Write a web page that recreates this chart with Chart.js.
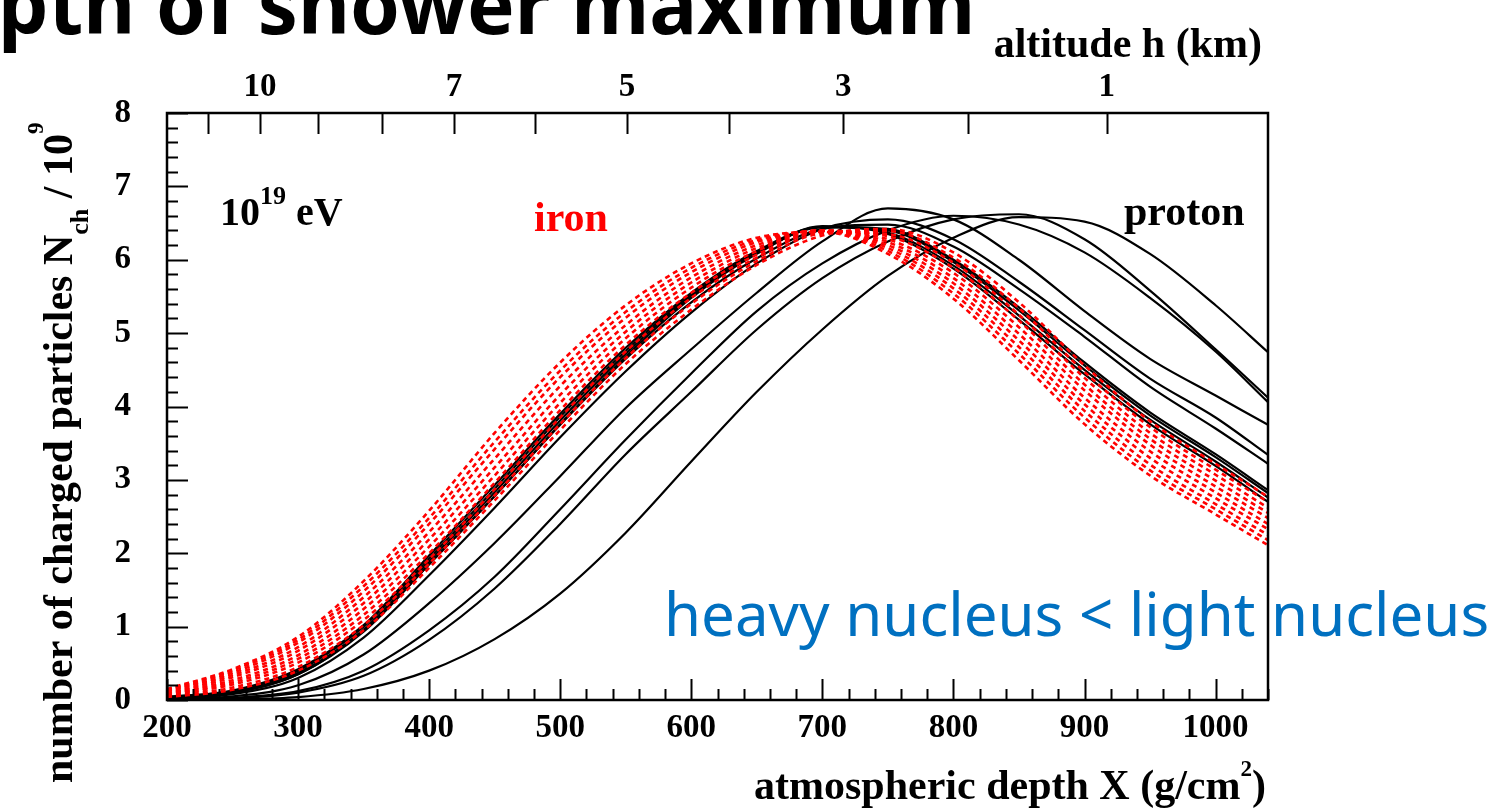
<!DOCTYPE html>
<html>
<head>
<meta charset="utf-8">
<title>Depth of shower maximum</title>
<script src="https://cdn.jsdelivr.net/npm/chart.js@4.4.1/dist/chart.umd.min.js"></script>
<style>
    html, body { margin: 0; padding: 0; background: #fff; }
    #wrap { position: relative; width: 1503px; height: 810px; overflow: hidden; }
</style>
</head>
<body>
<div id="wrap"><canvas id="myChart" width="1503" height="810"></canvas></div>
<script>
// 대기 깊이 X (g/cm2) - 모든 곡선이 공유하는 x 값
const depth = [200, 250, 300, 350, 400, 450, 500, 550, 600, 650, 700, 750, 800, 850, 900, 950, 1000, 1040];

// 양성자 샤워 (검은 실선), 단위 10^9
const proton1 = [0.00, 0.01, 0.04, 0.15, 0.40, 0.83, 1.45, 2.28, 3.25, 4.20, 5.05, 5.78, 6.30, 6.58, 6.52, 6.08, 5.38, 4.74];
const proton2 = [0.00, 0.02, 0.10, 0.33, 0.82, 1.52, 2.40, 3.35, 4.20, 5.05, 5.75, 6.25, 6.55, 6.62, 6.28, 5.58, 4.78, 4.12];
const proton3 = [0.00, 0.03, 0.12, 0.40, 0.95, 1.68, 2.60, 3.55, 4.45, 5.30, 5.95, 6.40, 6.60, 6.48, 6.10, 5.48, 4.75, 4.06];
const proton4 = [0.01, 0.05, 0.20, 0.62, 1.32, 2.14, 3.05, 3.98, 4.78, 5.55, 6.25, 6.70, 6.55, 6.00, 5.30, 4.65, 4.15, 3.75];
const proton5 = [0.02, 0.08, 0.30, 0.85, 1.70, 2.62, 3.58, 4.48, 5.28, 5.95, 6.42, 6.55, 6.28, 5.70, 5.04, 4.38, 3.85, 3.34];
const proton6 = [0.03, 0.10, 0.35, 0.95, 1.85, 2.78, 3.75, 4.65, 5.42, 6.02, 6.42, 6.48, 6.18, 5.60, 4.95, 4.27, 3.70, 3.22];
const proton7 = [0.04, 0.13, 0.42, 1.02, 1.97, 2.93, 3.90, 4.80, 5.55, 6.12, 6.45, 6.42, 6.00, 5.35, 4.60, 3.92, 3.35, 2.86];
const proton8 = [0.04, 0.12, 0.40, 1.00, 1.93, 2.88, 3.86, 4.76, 5.52, 6.10, 6.44, 6.40, 5.97, 5.31, 4.56, 3.88, 3.31, 2.82];
const proton9 = [0.03, 0.11, 0.37, 0.96, 1.89, 2.83, 3.81, 4.72, 5.50, 6.09, 6.45, 6.37, 5.92, 5.24, 4.50, 3.82, 3.25, 2.76];
const proton10 = [0.03, 0.10, 0.35, 0.93, 1.85, 2.78, 3.76, 4.68, 5.48, 6.08, 6.46, 6.35, 5.88, 5.18, 4.44, 3.76, 3.19, 2.70];

// 철 원자핵 샤워 (빨간 점선)
const iron1 = [0.15, 0.42, 0.86, 1.62, 2.58, 3.64, 4.60, 5.38, 5.95, 6.30, 6.38, 6.08, 5.47, 4.63, 3.76, 3.06, 2.53, 2.11];
const iron2 = [0.14, 0.40, 0.82, 1.55, 2.48, 3.52, 4.49, 5.29, 5.89, 6.27, 6.39, 6.12, 5.54, 4.72, 3.85, 3.13, 2.60, 2.18];
const iron3 = [0.13, 0.37, 0.78, 1.48, 2.40, 3.42, 4.40, 5.21, 5.83, 6.24, 6.40, 6.16, 5.61, 4.81, 3.94, 3.21, 2.67, 2.25];
const iron4 = [0.12, 0.34, 0.72, 1.40, 2.29, 3.29, 4.28, 5.11, 5.76, 6.20, 6.40, 6.20, 5.68, 4.90, 4.03, 3.30, 2.75, 2.33];
const iron5 = [0.10, 0.31, 0.67, 1.32, 2.19, 3.17, 4.16, 5.02, 5.69, 6.16, 6.40, 6.24, 5.75, 4.99, 4.12, 3.39, 2.83, 2.40];
const iron6 = [0.09, 0.27, 0.61, 1.24, 2.09, 3.06, 4.05, 4.93, 5.62, 6.12, 6.40, 6.28, 5.82, 5.08, 4.22, 3.48, 2.91, 2.48];
const iron7 = [0.08, 0.24, 0.56, 1.16, 2.00, 2.96, 3.95, 4.84, 5.55, 6.07, 6.39, 6.32, 5.89, 5.17, 4.30, 3.56, 2.99, 2.55];
const iron8 = [0.07, 0.21, 0.51, 1.09, 1.92, 2.87, 3.85, 4.75, 5.48, 6.03, 6.38, 6.35, 5.96, 5.25, 4.39, 3.64, 3.07, 2.62];
const iron9 = [0.05, 0.17, 0.45, 1.02, 1.86, 2.79, 3.76, 4.66, 5.40, 5.98, 6.36, 6.39, 6.03, 5.34, 4.47, 3.72, 3.14, 2.70];
const iron10 = [0.04, 0.14, 0.40, 0.95, 1.80, 2.72, 3.68, 4.58, 5.32, 5.93, 6.33, 6.42, 6.10, 5.42, 4.56, 3.80, 3.22, 2.77];

// 위쪽 축: 고도 h (km) 와 그에 해당하는 깊이
const altitudeKm = [11, 10, 9, 8, 7, 6, 5, 4, 3, 2, 1];
const altitudeDepth = [231, 271, 315, 364, 419, 481, 551, 629, 716, 811, 917];
const altitudeLabeled = [10, 7, 5, 3, 1];

const protonCurves = [proton1, proton2, proton3, proton4, proton5, proton6, proton7, proton8, proton9, proton10];
const ironCurves = [iron1, iron2, iron3, iron4, iron5, iron6, iron7, iron8, iron9, iron10];

const serif = '"Liberation Serif", "Times New Roman", serif';
let myChart = null;

// 배열을 {x, y} 점으로 변환
function toPoints(values) {
    return depth.map((x, i) => ({ x: x, y: values[i] }));
}

// 위첨자/아래첨자가 섞인 글자 그리기
function richWidth(ctx, parts, size, family, weight) {
    let w = 0;
    parts.forEach(p => {
        ctx.font = `${weight} ${size * (p.scale || 1)}px ${family}`;
        w += ctx.measureText(p.text).width;
    });
    return w;
}

function drawRich(ctx, parts, x, y, size, family, weight) {
    let cx = x;
    parts.forEach(p => {
        ctx.font = `${weight} ${size * (p.scale || 1)}px ${family}`;
        ctx.fillText(p.text, cx, y + (p.dy || 0) * size);
        cx += ctx.measureText(p.text).width;
    });
}

// 테두리, 안쪽 눈금, 제목과 글자
const frameTicks = {
    id: 'frameTicks',
    afterDraw(chart) {
        const { ctx, chartArea: a, scales } = chart;
        ctx.save();
        ctx.strokeStyle = '#000';
        ctx.lineWidth = 2;
        ctx.beginPath();
        // 아래 축 눈금
        for (let v = 200; v <= 1040; v += 20) {
            const px = Math.round(scales.x.getPixelForValue(v)) + 0.5;
            const len = v % 100 === 0 ? 21 : 11;
            ctx.moveTo(px, a.bottom);
            ctx.lineTo(px, a.bottom - len);
        }
        // 왼쪽 축 눈금
        for (let i = 0; i <= 40; i++) {
            const py = Math.round(scales.y.getPixelForValue(i * 0.2)) + 0.5;
            const len = i % 5 === 0 ? 21 : 11;
            ctx.moveTo(a.left, py);
            ctx.lineTo(a.left + len, py);
        }
        // 위쪽 (고도) 눈금
        altitudeDepth.forEach(v => {
            const px = Math.round(scales.xTop.getPixelForValue(v)) + 0.5;
            ctx.moveTo(px, a.top);
            ctx.lineTo(px, a.top + 21);
        });
        ctx.stroke();

        ctx.lineWidth = 2.5;
        ctx.strokeRect(a.left, a.top, a.right - a.left, a.bottom - a.top);

        ctx.fillStyle = '#000';
        ctx.textBaseline = 'alphabetic';
        ctx.textAlign = 'left';

        // x 축 제목
        const xTitle = [{ text: 'atmospheric depth X (g/cm' }, { text: '2', scale: 0.55, dy: -0.55 }, { text: ')' }];
        const xw = richWidth(ctx, xTitle, 42, serif, 'bold');
        drawRich(ctx, xTitle, 1266 - xw, 799, 42, serif, 'bold');

        // 위쪽 축 제목
        ctx.font = `bold 42px ${serif}`;
        ctx.textAlign = 'right';
        ctx.fillText('altitude h (km)', 1262, 57);
        ctx.textAlign = 'left';

        // y 축 제목 (세로)
        ctx.save();
        ctx.translate(72, 783);
        ctx.rotate(-Math.PI / 2);
        const yTitle = [
            { text: 'number of charged particles N' },
            { text: 'ch', scale: 0.62, dy: 0.38 },
            { text: ' / 10' },
            { text: '9', scale: 0.55, dy: -0.68 }
        ];
        drawRich(ctx, yTitle, 0, 0, 42, serif, 'bold');
        ctx.restore();

        // 그림 안 글자
        drawRich(ctx, [{ text: '10' }, { text: '19', scale: 0.65, dy: -0.52 }, { text: ' eV' }], 220, 225, 40, serif, 'bold');
        ctx.font = `bold 42px ${serif}`;
        ctx.fillStyle = '#ff0000';
        ctx.fillText('iron', 534, 231);
        ctx.fillStyle = '#000';
        ctx.fillText('proton', 1124, 225);

        // 슬라이드 글자
        ctx.font = 'bold 80px "Noto Sans", sans-serif';
        ctx.fillText('pth of shower maximum', -2, 34);
        ctx.font = '60px "Noto Sans", sans-serif';
        ctx.fillStyle = '#0070c0';
        ctx.fillText('heavy nucleus < light nucleus', 664, 636);
        ctx.restore();
    }
};

function buildDatasets() {
    const sets = [];
    ironCurves.forEach((c, i) => {
        sets.push({
            label: 'iron ' + (i + 1),
            data: toPoints(c),
            borderColor: '#ff0000',
            borderWidth: 2.6,
            borderDash: [5, 4],
            pointRadius: 0,
            fill: false,
            cubicInterpolationMode: 'monotone'
        });
    });
    protonCurves.forEach((c, i) => {
        sets.push({
            label: 'proton ' + (i + 1),
            data: toPoints(c),
            borderColor: '#000',
            borderWidth: 2.2,
            pointRadius: 0,
            fill: false,
            cubicInterpolationMode: 'monotone'
        });
    });
    return sets;
}

function renderChart() {
    const ctx = document.getElementById('myChart').getContext('2d');
    const tickFont = { family: serif, size: 33, weight: 'bold' };

    myChart = new Chart(ctx, {
        type: 'line',
        data: { datasets: buildDatasets() },
        options: {
            responsive: false,
            animation: false,
            devicePixelRatio: 1,
            layout: { padding: { left: 0, right: 235, top: 0, bottom: 0 } },
            plugins: {
                legend: { display: false },
                tooltip: { enabled: false }
            },
            scales: {
                x: {
                    type: 'linear',
                    position: 'bottom',
                    min: 200,
                    max: 1040,
                    grid: { display: false, drawTicks: false },
                    border: { display: false },
                    ticks: {
                        stepSize: 100,
                        includeBounds: false,
                        padding: 9,
                        color: '#000',
                        font: tickFont,
                        maxRotation: 0,
                        callback: v => String(v)
                    },
                    afterFit: s => { s.height = 110; }
                },
                xTop: {
                    type: 'linear',
                    position: 'top',
                    min: 200,
                    max: 1040,
                    grid: { display: false, drawTicks: false },
                    border: { display: false },
                    afterBuildTicks: s => { s.ticks = altitudeDepth.map(v => ({ value: v })); },
                    ticks: {
                        autoSkip: false,
                        padding: 6,
                        color: '#000',
                        font: tickFont,
                        maxRotation: 0,
                        callback: (v, i) => altitudeLabeled.includes(altitudeKm[i]) ? String(altitudeKm[i]) : ''
                    },
                    afterFit: s => { s.height = 113; }
                },
                y: {
                    type: 'linear',
                    min: 0,
                    max: 8,
                    grid: { display: false, drawTicks: false },
                    border: { display: false },
                    ticks: { stepSize: 1, padding: 36, color: '#000', font: tickFont, callback: v => String(v) },
                    afterFit: s => { s.width = 167; }
                }
            }
        },
        plugins: [frameTicks]
    });
}

document.addEventListener('DOMContentLoaded', renderChart);
</script>
</body>
</html>
